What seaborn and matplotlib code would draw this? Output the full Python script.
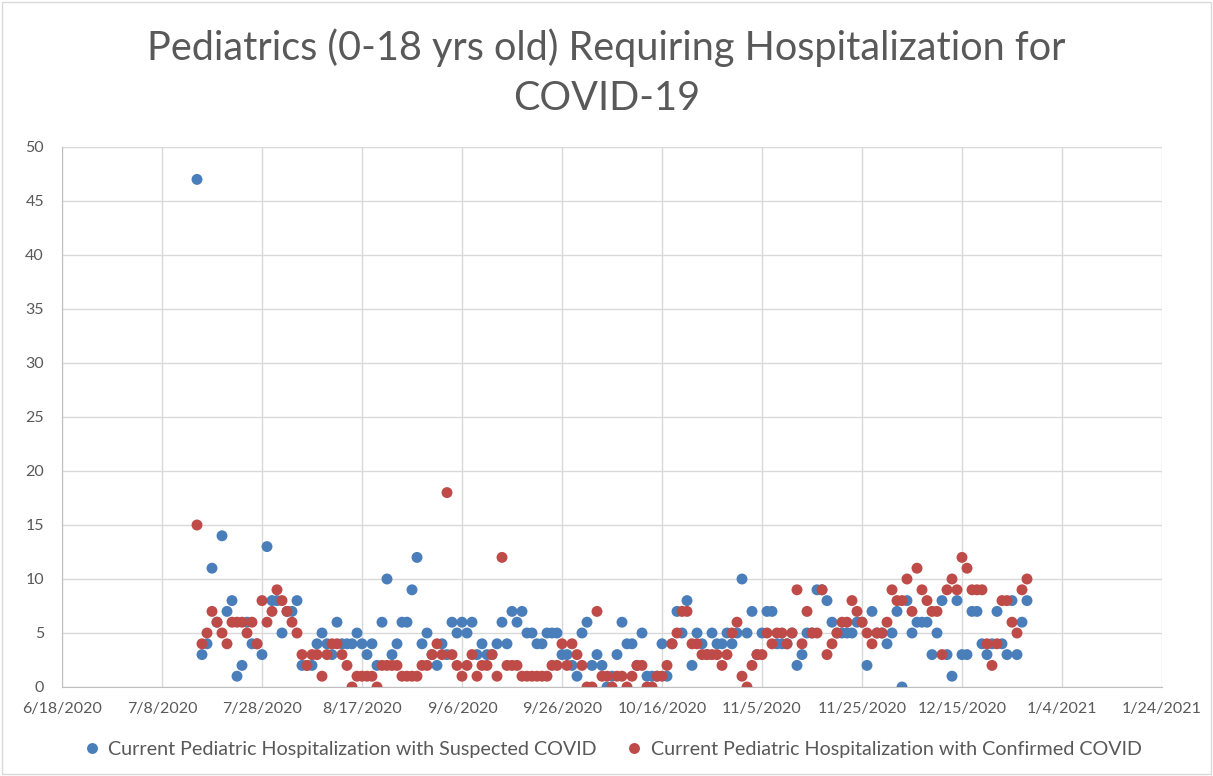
import matplotlib
matplotlib.use("Agg")
import matplotlib.pyplot as plt
import matplotlib.dates as mdates
from matplotlib.patches import Rectangle
import seaborn as sns
import pandas as pd

# daily values starting 7/15/2020
START_DATE = "2020-07-15"
suspected = [
    47, 3, 4, 11, 6, 14, 7, 8, 1, 2, 6, 4, 4,
    3, 13, 8, 8, 5, 7, 7, 8, 2, 2,
    2, 4, 5, 4, 3, 6, 4, 4, 4, 5,
    4, 3, 4, 2, 6, 10, 3, 4, 6, 6,
    9, 12, 4, 5, 3, 2, 4, 3, 6, 5,
    6, 5, 6, 3, 4, 3, 3, 4, 6, 4,
    7, 6, 7, 5, 5, 4, 4, 5, 5, 5,
    3, 3, 2, 1, 5, 6, 2, 3, 2, 0,
    1, 3, 6, 4, 4, 2, 5, 1, 1, 1,
    4, 1, 4, 7, 5, 8, 2, 5, 4, 3,
    5, 4, 4, 5, 4, 5, 10, 5, 7, 3,
    5, 7, 7, 4, 4, 4, 5, 2, 3, 5,
    5, 9, 9, 8, 6, 5, 5, 5, 5, 6,
    6, 2, 7, 5, 5, 4, 5, 7, 0, 8,
    5, 6, 6, 6, 3, 5, 8, 3, 1, 8,
    3, 3, 7, 7, 4, 3, 4, 7, 4, 3,
    8, 3, 6, 8,
]
confirmed = [
    15, 4, 5, 7, 6, 5, 4, 6, 6, 6, 5, 6, 4,
    8, 6, 7, 9, 8, 7, 6, 5, 3, 2,
    3, 3, 1, 3, 4, 4, 3, 2, 0, 1,
    1, 1, 1, 0, 2, 2, 2, 2, 1, 1,
    1, 1, 2, 2, 3, 4, 3, 18, 3, 2,
    1, 2, 3, 1, 2, 2, 3, 1, 12, 2,
    2, 2, 1, 1, 1, 1, 1, 1, 2, 2,
    4, 2, 4, 3, 2, 0, 0, 7, 1, 1,
    0, 1, 1, 0, 1, 2, 2, 0, 0, 1,
    1, 2, 4, 5, 7, 7, 4, 4, 3, 3,
    3, 3, 2, 3, 5, 6, 1, 0, 2, 3,
    3, 5, 4, 5, 5, 4, 5, 9, 4, 7,
    5, 5, 9, 3, 4, 5, 6, 6, 8, 7,
    6, 5, 4, 5, 5, 6, 9, 8, 8, 10,
    7, 11, 9, 8, 7, 7, 3, 9, 10, 9,
    12, 11, 9, 9, 9, 4, 2, 4, 8, 8,
    6, 5, 9, 10,
]
series_names = [
    "Current Pediatric Hospitalization with Suspected COVID",
    "Current Pediatric Hospitalization with Confirmed COVID",
]
colors = ["#4A7EBB", "#BE4B48"]
title_lines = ["Pediatrics (0-18 yrs old) Requiring Hospitalization for", "COVID-19"]

dates = pd.date_range(START_DATE, periods=len(suspected), freq="D")
df = pd.concat([
    pd.DataFrame({"date": dates, "value": suspected, "series": series_names[0]}),
    pd.DataFrame({"date": dates, "value": confirmed, "series": series_names[1]}),
], ignore_index=True)

sns.set_style("white")
plt.rcParams["font.family"] = ["Lato", "DejaVu Sans"]

fig = plt.figure(figsize=(12.13, 7.76), dpi=100)
ax = fig.add_axes([62 / 1213, 1 - 687 / 776, 1100 / 1213, 540 / 776])

sns.scatterplot(data=df, x="date", y="value", hue="series", palette=colors,
                s=62, edgecolor="none", ax=ax, zorder=3)

# axes
x_start = pd.Timestamp("2020-06-18")
x_end = pd.Timestamp("2021-01-24")
ticks = pd.date_range(x_start, x_end, freq="20D")
ax.set_xlim(mdates.date2num(x_start), mdates.date2num(x_end))
ax.set_xticks(mdates.date2num(ticks))
ax.set_xticklabels([f"{d.month}/{d.day}/{d.year}" for d in ticks])
ax.set_ylim(0, 50)
ax.set_yticks(range(0, 51, 5))
ax.grid(True, color="#D9D9D9", linewidth=1)
ax.set_axisbelow(True)
for side in ["top", "right"]:
    ax.spines[side].set_visible(False)
for side in ["left", "bottom"]:
    ax.spines[side].set_color("#BFBFBF")
ax.tick_params(axis="both", length=0, labelsize=11.5, labelcolor="#595959")
ax.tick_params(axis="x", pad=11)
ax.tick_params(axis="y", pad=13)
ax.set_xlabel("")
ax.set_ylabel("")

fig.text(0.5, 1 - 48 / 776, title_lines[0],
         fontsize=28.5, color="#595959", ha="center", va="center")
fig.text(0.5, 1 - 99 / 776, title_lines[1],
         fontsize=28.5, color="#595959", ha="center", va="center")

sns.move_legend(ax, "center", bbox_to_anchor=(0.5, -0.115), ncol=2,
                frameon=False, title=None, fontsize=14.2, handlelength=1.0,
                handletextpad=0.35, columnspacing=1.4, markerscale=1.0)
for t in ax.get_legend().get_texts():
    t.set_color("#595959")

fig.patches.append(Rectangle((0.002, 0.002), 0.996, 0.996, transform=fig.transFigure,
                             fill=False, edgecolor="#D9D9D9", linewidth=1))

fig.savefig("out.png", dpi=100)
